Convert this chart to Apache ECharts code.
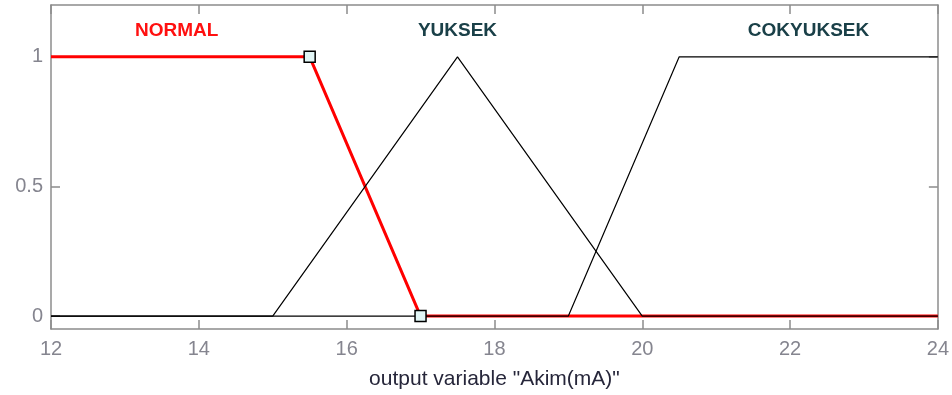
<!DOCTYPE html>
<html><head><meta charset="utf-8">
<script src="https://cdn.jsdelivr.net/npm/echarts@6/dist/echarts.min.js"></script>
<style>html,body{margin:0;padding:0;background:#fff}#c{width:952px;height:395px}</style>
</head><body><div id="c"></div>
<script>
const normalX = [12, 15.5, 17, 24];
const normalY = [1, 1, 0, 0];
const yuksekX = [12, 15, 17.5, 20, 24];
const yuksekY = [0, 0, 1, 0, 0];
const cokX = [12, 19, 20.5, 24];
const cokY = [0, 0, 1, 1];
const markerX = [15.5, 17];
const markerY = [1, 0];
const mfNames = ['NORMAL', 'YUKSEK', 'COKYUKSEK'];
const labelX = [13.7, 17.5, 22.25];
const labelY = [1.1, 1.1, 1.1];
const xTicks = [12, 14, 16, 18, 20, 22, 24];
const yTicks = [0, 0.5, 1];
const xTitle = 'output variable "Akim(mA)"';

const zip = (a, b) => a.map((v, i) => [v, b[i]]);
const chart = echarts.init(document.getElementById('c'));
const gray = '#8c8c8c';
const font = 'Arial, "Liberation Sans", sans-serif';
const frameLine = {show: true, onZero: false, lineStyle: {color: gray, width: 1.5}};
const tick = {show: true, inside: true, length: 9, lineStyle: {color: gray, width: 1.5}};
chart.setOption({
  animation: false,
  grid: {left: 51, right: 11, top: 5, bottom: 66},
  xAxis: [{
    type: 'value', min: 12, max: 24, interval: 2, position: 'bottom',
    axisLine: frameLine,
    axisTick: tick,
    axisLabel: {color: '#85858f', fontSize: 20, fontFamily: font, margin: 10},
    splitLine: {show: false},
    name: xTitle, nameLocation: 'middle', nameGap: 40,
    nameTextStyle: {color: '#26263a', fontSize: 21, fontFamily: font}
  }, {
    type: 'value', min: 12, max: 24, interval: 2, position: 'top',
    axisLine: frameLine,
    axisTick: tick,
    axisLabel: {show: false}, splitLine: {show: false}
  }],
  yAxis: [{
    type: 'value', min: -0.05, max: 1.2, position: 'left',
    axisLine: frameLine,
    axisTick: Object.assign({customValues: yTicks}, tick),
    axisLabel: {color: '#85858f', fontSize: 20, fontFamily: font, margin: 8, customValues: yTicks},
    splitLine: {show: false}
  }, {
    type: 'value', min: -0.05, max: 1.2, position: 'right',
    axisLine: frameLine,
    axisTick: Object.assign({customValues: yTicks}, tick),
    axisLabel: {show: false}, splitLine: {show: false}
  }],
  series: [
    {type: 'line', data: zip(normalX, normalY), showSymbol: false, z: 2,
      lineStyle: {color: '#ff0000', width: 3}},
    {type: 'line', data: zip(yuksekX, yuksekY), showSymbol: false, z: 3,
      lineStyle: {color: '#000', width: 1.2}},
    {type: 'line', data: zip(cokX, cokY), showSymbol: false, z: 3,
      lineStyle: {color: '#000', width: 1.2}},
    {type: 'scatter', data: zip(markerX, markerY), symbol: 'rect', symbolSize: 11, z: 5,
      itemStyle: {color: '#e2f6f6', borderColor: '#000', borderWidth: 1.5, opacity: 1}},
    {type: 'scatter', symbolSize: 0, z: 6, silent: true, itemStyle: {opacity: 1},
      data: mfNames.map((n, i) => ({value: [labelX[i], labelY[i]], name: n,
        label: {show: true, position: 'inside', formatter: n, fontSize: 19, fontWeight: 'bold',
          fontFamily: font, color: i === 0 ? '#ff1010' : '#1a4048'}}))}
  ]
});
</script></body></html>
